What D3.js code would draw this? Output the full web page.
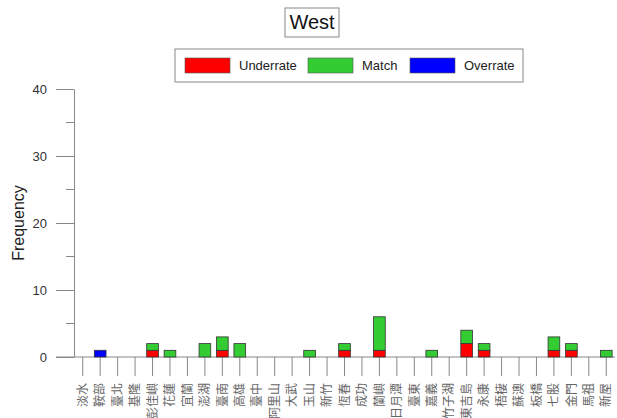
<!DOCTYPE html>
<html>
<head>
<meta charset="utf-8">
<script src="https://cdn.jsdelivr.net/npm/d3@7"></script>
<style>
  body { margin: 0; background: #fff; }
  svg { font-family: Arial, "Liberation Sans", sans-serif; }
</style>
</head>
<body>
<div id="chart"></div>
<script>
// stations along the x axis
const stations = ["淡水", "鞍部", "臺北", "基隆", "彭佳嶼", "花蓮", "宜蘭", "澎湖", "臺南", "高雄",
    "臺中", "阿里山", "大武", "玉山", "新竹", "恆春", "成功", "蘭嶼", "日月潭", "臺東",
    "嘉義", "竹子湖", "東吉島", "永康", "梧棲", "蘇澳", "板橋", "七股", "金門", "馬祖", "新屋"];

const underrate = [0, 0, 0, 0, 1, 0, 0, 0, 1, 0, 0, 0, 0, 0, 0, 1, 0, 1, 0, 0, 0, 0, 2, 1, 0, 0, 0, 1, 1, 0, 0];
const match     = [0, 0, 0, 0, 1, 1, 0, 2, 2, 2, 0, 0, 0, 1, 0, 1, 0, 5, 0, 0, 1, 0, 2, 1, 0, 0, 0, 2, 1, 0, 1];
const overrate  = [0, 1, 0, 0, 0, 0, 0, 0, 0, 0, 0, 0, 0, 0, 0, 0, 0, 0, 0, 0, 0, 0, 0, 0, 0, 0, 0, 0, 0, 0, 0];

const seriesNames = ["Underrate", "Match", "Overrate"];
const seriesColors = ["#ff0000", "#33cc33", "#0000ff"];
const yTicks = [0, 10, 20, 30, 40];

const width = 617, height = 418;
const margin = { top: 89, right: 2, bottom: 61, left: 74 };

const svg = d3.select("#chart").append("svg")
    .attr("width", width)
    .attr("height", height);

const x = d3.scaleBand()
    .domain(stations)
    .range([margin.left, width - margin.right])
    .paddingInner(0.33)
    .paddingOuter(0.165);

const y = d3.scaleLinear()
    .domain([0, 40])
    .range([height - margin.bottom, margin.top]);

// title
const titleG = svg.append("g");
titleG.append("rect")
    .attr("x", 285).attr("y", 8).attr("width", 54).attr("height", 29)
    .attr("fill", "#fff").attr("stroke", "#888");
titleG.append("text")
    .attr("x", 312).attr("y", 29)
    .attr("text-anchor", "middle")
    .attr("font-size", "20px")
    .attr("fill", "#111")
    .text("West");

// legend
const legend = svg.append("g");
legend.append("rect")
    .attr("x", 175).attr("y", 49).attr("width", 348).attr("height", 33)
    .attr("fill", "#fff").attr("stroke", "#888");
const legendX = [185, 308, 410];
seriesNames.forEach((name, i) => {
    legend.append("rect")
        .attr("x", legendX[i]).attr("y", 58).attr("width", 45).attr("height", 15)
        .attr("fill", seriesColors[i]).attr("stroke", "#555").attr("stroke-width", 0.6);
    legend.append("text")
        .attr("x", legendX[i] + 54).attr("y", 70)
        .attr("font-size", "13px").attr("fill", "#222")
        .text(name);
});

// y axis
const yAxis = svg.append("g")
    .attr("transform", `translate(${margin.left},0)`)
    .call(d3.axisLeft(y).tickValues(yTicks).tickSize(18).tickPadding(9).tickSizeOuter(0));
yAxis.selectAll("line").attr("stroke", "#888");
yAxis.select(".domain").attr("stroke", "#888");
yAxis.selectAll("text").attr("font-size", "13px").attr("fill", "#333")
    .attr("font-family", "Arial, 'Liberation Sans', sans-serif");

// minor ticks
svg.append("g").selectAll("line")
    .data([5, 15, 25, 35])
    .join("line")
    .attr("x1", margin.left - 8).attr("x2", margin.left)
    .attr("y1", d => y(d)).attr("y2", d => y(d))
    .attr("stroke", "#888");

// y label
svg.append("text")
    .attr("transform", `translate(24,${(y(0) + y(40)) / 2}) rotate(-90)`)
    .attr("text-anchor", "middle")
    .attr("font-size", "16px")
    .attr("fill", "#222")
    .text("Frequency");

// x axis
const xAxis = svg.append("g")
    .attr("transform", `translate(0,${y(0)})`)
    .call(d3.axisBottom(x).tickSize(19).tickSizeOuter(0));
xAxis.selectAll("line").attr("stroke", "#888");
xAxis.select(".domain").attr("stroke", "#888").attr("d", `M${margin.left - 18},0H${width - margin.right}`);
xAxis.selectAll("text")
    .attr("transform", "rotate(-90)")
    .attr("text-anchor", "end")
    .attr("x", -26).attr("y", 0).attr("dy", "0.35em")
    .attr("font-size", "12px")
    .attr("fill", "#666")
    .attr("font-family", "'Noto Sans CJK TC', sans-serif");

// stacked bars
const rows = stations.map((s, i) => ({ station: s, Underrate: underrate[i], Match: match[i], Overrate: overrate[i] }));
const stack = d3.stack().keys(seriesNames)(rows);

svg.append("g").selectAll("g")
    .data(stack)
    .join("g")
    .attr("fill", (d, i) => seriesColors[i])
    .selectAll("rect")
    .data(d => d.filter(p => p[1] > p[0]))
    .join("rect")
    .attr("x", p => x(p.data.station))
    .attr("y", p => y(p[1]))
    .attr("width", x.bandwidth())
    .attr("height", p => y(p[0]) - y(p[1]))
    .attr("stroke", "#333")
    .attr("stroke-width", 0.8);
</script>
</body>
</html>
